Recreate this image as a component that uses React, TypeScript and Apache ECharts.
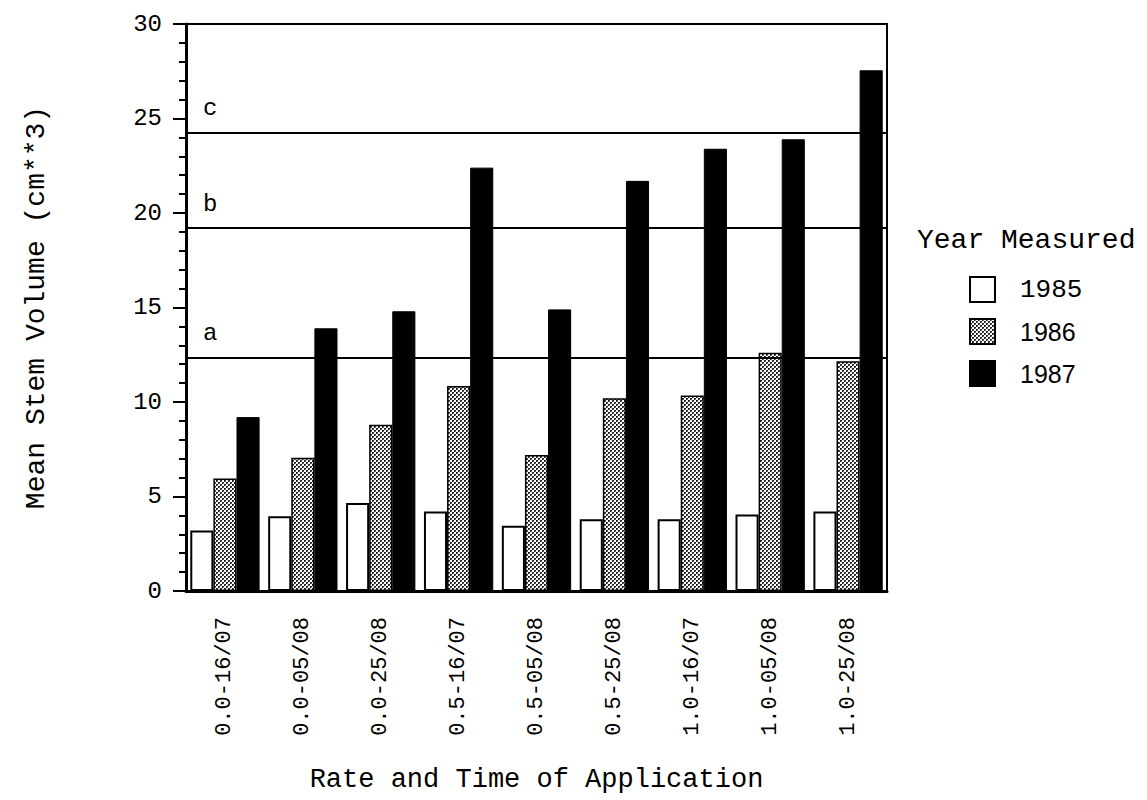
import React, { useEffect, useRef } from "react";
import * as echarts from "echarts";

const categories = [
  "0.0-16/07", "0.0-05/08", "0.0-25/08",
  "0.5-16/07", "0.5-05/08", "0.5-25/08",
  "1.0-16/07", "1.0-05/08", "1.0-25/08",
];
const years = ["1985", "1986", "1987"];
const v1985 = [3.2, 3.95, 4.65, 4.2, 3.45, 3.8, 3.8, 4.05, 4.2];
const v1986 = [5.95, 7.05, 8.8, 10.85, 7.2, 10.2, 10.35, 12.6, 12.15];
const v1987 = [9.2, 13.9, 14.8, 22.4, 14.9, 21.7, 23.4, 23.9, 27.55];
const refLabels = ["a", "b", "c"];
const refValues = [12.35, 19.2, 24.25];
const yTicks = { min: 0, max: 30, interval: 5 };

const MONO = "'Liberation Mono', 'DejaVu Sans Mono', monospace";
const SANS = "'Liberation Sans', Arial, sans-serif";

function makePattern() {
  const c = document.createElement("canvas");
  c.width = 4;
  c.height = 4;
  const ctx = c.getContext("2d")!;
  ctx.fillStyle = "#fff";
  ctx.fillRect(0, 0, 4, 4);
  ctx.fillStyle = "#222";
  ctx.fillRect(0, 0, 2, 1);
  ctx.fillRect(0, 1, 1, 1);
  ctx.fillRect(2, 2, 2, 1);
  ctx.fillRect(2, 3, 1, 1);
  ctx.fillStyle = "#777";
  ctx.fillRect(1, 1, 1, 1);
  ctx.fillRect(3, 3, 1, 1);
  return { image: c, repeat: "repeat", imageWidth: 4, imageHeight: 4 } as any;
}

export default function App() {
  const ref = useRef<HTMLDivElement>(null);
  useEffect(() => {
    if (!ref.current) return;
    const chart = echarts.init(ref.current, null, { renderer: "svg" });
    const pattern = makePattern();
    const option: any = {
      animation: false,
      backgroundColor: "#fff",
      title: {
        text: "Year Measured",
        left: 912,
        top: 221,
        textStyle: { fontFamily: MONO, fontSize: 28, fontWeight: "normal", color: "#000" },
      },
      legend: {
        orient: "vertical",
        left: 964,
        top: 271,
        icon: "rect",
        itemWidth: 25,
        itemHeight: 25,
        itemGap: 15,
        data: [
          { name: "1985", textStyle: { fontFamily: MONO, fontSize: 26, color: "#000", padding: [0, 0, 0, 20] } },
          { name: "1986", textStyle: { fontFamily: SANS, fontSize: 25, color: "#000", padding: [0, 0, 0, 20] } },
          { name: "1987", textStyle: { fontFamily: SANS, fontSize: 25, color: "#000", padding: [0, 0, 0, 20] } },
        ],
      },
      grid: {
        left: 186,
        right: 260,
        top: 24,
        bottom: 209,
        show: true,
        borderColor: "#000",
        borderWidth: 2,
        backgroundColor: "transparent",
      },
      xAxis: {
        type: "category",
        data: categories,
        name: "Rate and Time of Application",
        nameLocation: "middle",
        nameGap: 175,
        nameTextStyle: { fontFamily: MONO, fontSize: 27, color: "#000" },
        axisLine: { lineStyle: { color: "#000", width: 3 } },
        axisTick: { alignWithLabel: true, length: 11, lineStyle: { color: "#000", width: 2 } },
        axisLabel: {
          rotate: 90,
          margin: 26,
          fontFamily: MONO,
          fontSize: 22,
          color: "#000",
          interval: 0,
        },
        splitLine: { show: false },
      },
      yAxis: {
        type: "value",
        min: yTicks.min,
        max: yTicks.max,
        interval: yTicks.interval,
        name: "Mean Stem Volume (cm**3)",
        nameLocation: "middle",
        nameRotate: 90,
        nameGap: 136,
        nameTextStyle: { fontFamily: MONO, fontSize: 28, color: "#000" },
        axisLine: { show: true, lineStyle: { color: "#000", width: 3 } },
        axisTick: { show: true, length: 13, lineStyle: { color: "#000", width: 2 } },
        minorTick: { show: true, splitNumber: 5, length: 7, lineStyle: { color: "#000", width: 2 } },
        axisLabel: { margin: 24, fontFamily: MONO, fontSize: 24, color: "#000" },
        splitLine: { show: false },
        minorSplitLine: { show: false },
      },
      series: [
        {
          name: years[0],
          type: "bar",
          data: v1985,
          barGap: "0%",
          barCategoryGap: "11%",
          itemStyle: { color: "#fff", borderColor: "#000", borderWidth: 2 },
        },
        {
          name: years[1],
          type: "bar",
          data: v1986,
          barGap: "0%",
          barCategoryGap: "11%",
          itemStyle: { color: pattern, borderColor: "#000", borderWidth: 1.5 },
        },
        {
          name: years[2],
          type: "bar",
          data: v1987,
          barGap: "0%",
          barCategoryGap: "11%",
          itemStyle: { color: "#000", borderColor: "#000", borderWidth: 1 },
          markLine: {
            silent: true,
            symbol: ["none", "none"],
            lineStyle: { color: "#000", width: 2, type: "solid" },
            label: {
              position: "insideStartTop",
              fontFamily: MONO,
              fontSize: 24,
              color: "#000",
              distance: [17, 12],
            },
            data: refValues.map((v, i) => ({
              yAxis: v,
              label: { formatter: refLabels[i] },
            })),
          },
        },
      ],
    };
    chart.setOption(option);
    return () => chart.dispose();
  }, []);
  return (
    <div
      ref={ref}
      style={{ position: "fixed", left: 0, top: 0, width: 1147, height: 800 }}
    />
  );
}
